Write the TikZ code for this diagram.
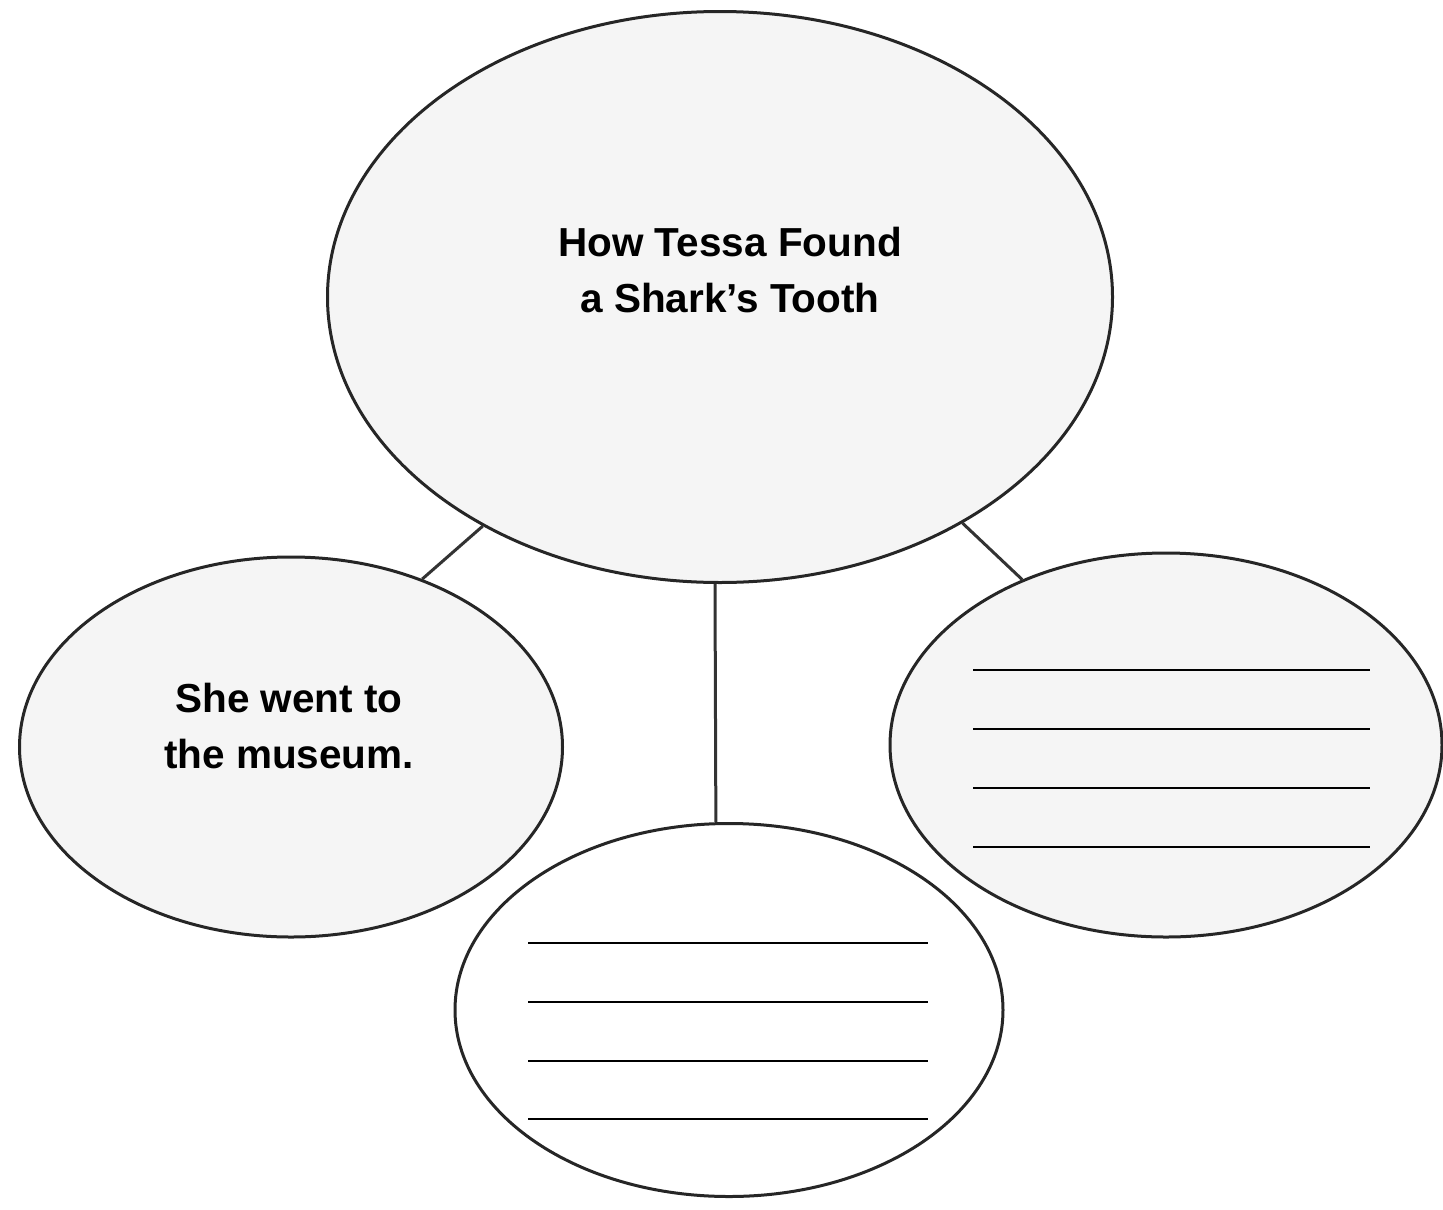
\documentclass[tikz,border=0pt]{standalone}
\usepackage{fontspec}
\setmainfont{Liberation Sans}
\usetikzlibrary{calc,shapes.geometric}
\tikzset{
  bubble/.style={ellipse, draw=black!85, line width=3pt, fill=black!4, inner sep=0pt},
  blank/.style={bubble, fill=white},
  caption/.style={align=center, font=\fontsize{40.5}{56}\selectfont\bfseries},
  link/.style={draw=black!80, line width=3pt},
  writeline/.style={line width=2pt},
}
\begin{document}
\begin{tikzpicture}[x=1pt, y=-1pt]
\useasboundingbox (0,0) rectangle (1443,1210);
\node[bubble, minimum width=785pt, minimum height=571pt] (topic) at (720,297) {};
\node[bubble, minimum width=543pt, minimum height=380pt] (went) at (291,747) {};
\node[bubble, minimum width=552pt, minimum height=384pt] (fact) at (1166,745) {};
\node[blank, minimum width=548pt, minimum height=373pt] (next) at (729,1010) {};

\node[caption] (title) at (730,270) {How Tessa Found\\a Shark’s Tooth};
\node[caption] (event) at (289,726) {She went to\\the museum.};

\draw[link] (topic.224) -- (went.52);
\draw[link] (topic.269) -- (next.94);
\draw[link] (topic.317) -- (fact.131);

\foreach \dy in {-75,-16,43,102}
  \draw[writeline] ($(fact.center)+(-193,\dy)$) -- ++(397,0);
\foreach \dy in {-67,-8,51,109}
  \draw[writeline] ($(next.center)+(-201,\dy)$) -- ++(400,0);
\end{tikzpicture}
\end{document}
